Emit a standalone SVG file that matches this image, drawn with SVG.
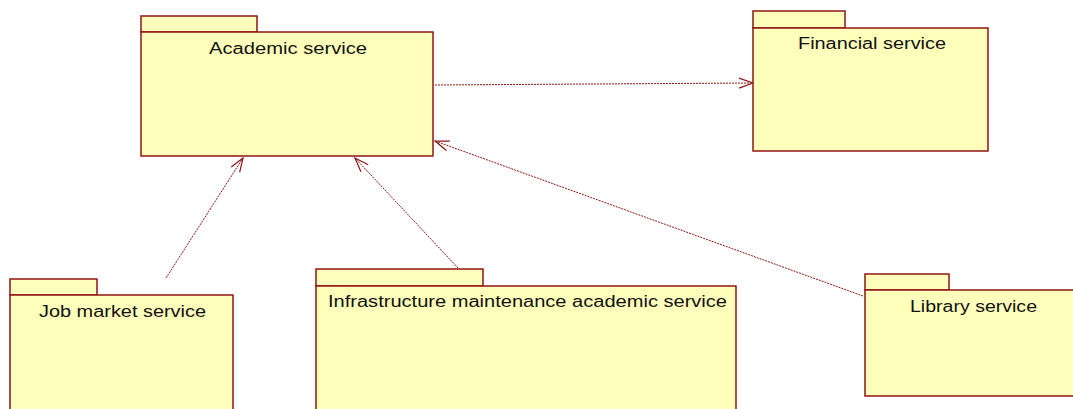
<svg xmlns="http://www.w3.org/2000/svg" width="1073" height="409" viewBox="0 0 1073 409">
  <style>
    .pkg { fill: #ffffbb; stroke: #8e1515; stroke-width: 1.5; }
    .lbl { font-family: "Liberation Sans", Arial, sans-serif; font-size: 16px; fill: #111; }
    .dep { fill: none; stroke: #8e1515; stroke-width: 1; stroke-dasharray: 2 1; }
    .head { fill: none; stroke: #8e1515; stroke-width: 1.2; }
  </style>
  <defs>
    <marker id="open" viewBox="0 0 16 12" refX="15" refY="6" markerWidth="16" markerHeight="12" markerUnits="userSpaceOnUse" orient="auto">
      <path class="head" d="M1,1 L15,6 L1,11"/>
    </marker>
  </defs>
  <rect width="1073" height="409" fill="#ffffff"/>

  <g id="connectors">
    <line class="dep" x1="435" y1="85" x2="753" y2="83" marker-end="url(#open)"/>
    <line class="dep" x1="166" y1="278" x2="243" y2="158" marker-end="url(#open)"/>
    <line class="dep" x1="458" y1="268" x2="355" y2="158" marker-end="url(#open)"/>
    <line class="dep" x1="863" y1="296" x2="435" y2="141" marker-end="url(#open)"/>
  </g>

  <g id="academic">
    <rect class="pkg" x="141" y="16" width="116" height="16"/>
    <rect class="pkg" x="141" y="32" width="292" height="124"/>
    <text class="lbl" x="209" y="54" textLength="158" lengthAdjust="spacingAndGlyphs">Academic service</text>
  </g>

  <g id="financial">
    <rect class="pkg" x="753" y="11" width="92" height="17"/>
    <rect class="pkg" x="753" y="28" width="235" height="123"/>
    <text class="lbl" x="798" y="49" textLength="148" lengthAdjust="spacingAndGlyphs">Financial service</text>
  </g>

  <g id="job-market">
    <rect class="pkg" x="10" y="279" width="87" height="16"/>
    <rect class="pkg" x="10" y="295" width="223" height="120"/>
    <text class="lbl" x="39" y="317" textLength="167" lengthAdjust="spacingAndGlyphs">Job market service</text>
  </g>

  <g id="infrastructure">
    <rect class="pkg" x="316" y="269" width="167" height="17"/>
    <rect class="pkg" x="316" y="286" width="420" height="130"/>
    <text class="lbl" x="328" y="307" textLength="399" lengthAdjust="spacingAndGlyphs">Infrastructure maintenance academic service</text>
  </g>

  <g id="library">
    <rect class="pkg" x="865" y="274" width="84" height="16"/>
    <rect class="pkg" x="865" y="290" width="215" height="106"/>
    <text class="lbl" x="910" y="312" textLength="127" lengthAdjust="spacingAndGlyphs">Library service</text>
  </g>
</svg>
